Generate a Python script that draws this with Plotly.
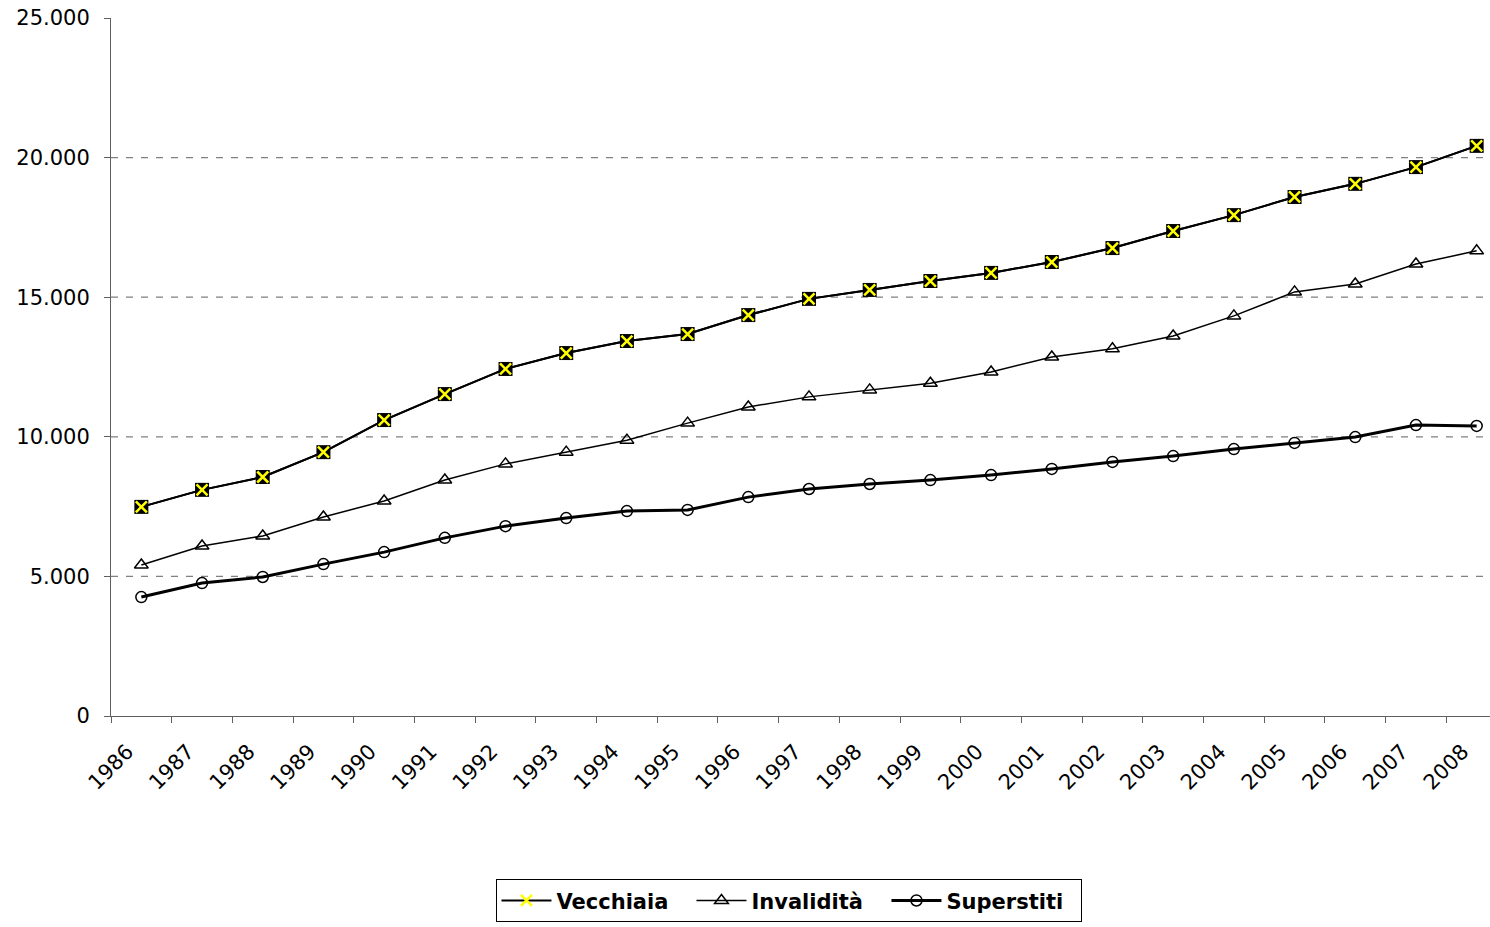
import plotly.graph_objects as go

anni = [str(a) for a in range(1986, 2009)]

vecchiaia = [7490, 8100, 8560, 9450, 10600, 11530, 12430, 13000, 13430, 13680, 14360, 14940,
             15260, 15580, 15870, 16260, 16760, 17370, 17940, 18590, 19060, 19660, 20420]
invalidita = [5410, 6090, 6450, 7130, 7700, 8450, 9030, 9450, 9880, 10490, 11070, 11430,
              11680, 11920, 12320, 12860, 13150, 13610, 14330, 15190, 15470, 16190, 16660]
superstiti = [4260, 4760, 4980, 5440, 5870, 6380, 6800, 7090, 7340, 7380, 7840, 8130,
              8310, 8450, 8630, 8850, 9100, 9310, 9560, 9780, 9990, 10420, 10390]

griglia = [5000, 10000, 15000, 20000]

fig = go.Figure()

# Vecchiaia: black square underneath, yellow cross on top
fig.add_trace(go.Scatter(x=anni, y=vecchiaia, name="Vecchiaia", mode="lines+markers",
                         legendgroup="v", showlegend=False,
                         line=dict(color="black", width=2),
                         marker=dict(symbol="square", size=14, color="black")))
fig.add_trace(go.Scatter(x=anni, y=vecchiaia, name="Vecchiaia", mode="lines+markers",
                         legendgroup="v",
                         line=dict(color="black", width=2),
                         marker=dict(symbol="x-thin", size=11, color="#ffff00",
                                     line=dict(color="#ffff00", width=2.5))))
fig.add_trace(go.Scatter(x=anni, y=invalidita, name="Invalidità", mode="lines+markers",
                         line=dict(color="black", width=1.5),
                         marker=dict(symbol="triangle-up-open", size=12, color="black",
                                     line=dict(width=1.5))))
fig.add_trace(go.Scatter(x=anni, y=superstiti, name="Superstiti", mode="lines+markers",
                         line=dict(color="black", width=3),
                         marker=dict(symbol="circle-open", size=11, color="black",
                                     line=dict(width=1.5))))

fig.update_traces(cliponaxis=False)

for g in griglia:
    fig.add_hline(y=g, line=dict(color="#808080", width=1.2, dash="7px,8px"), layer="below")

fig.update_layout(
    width=1490, height=927,
    margin=dict(l=111, r=0, t=18, b=211),
    paper_bgcolor="white", plot_bgcolor="white",
    font=dict(family="DejaVu Sans", size=21, color="black"),
    separators=",.",
    showlegend=True,
    legend=dict(orientation="h", x=0.492, xanchor="center", y=-0.234, yanchor="top",
                bordercolor="black", borderwidth=1,
                itemwidth=50, entrywidth=130, entrywidthmode="pixels",
                font=dict(family="DejaVu Sans", size=21, color="black", weight="bold")),
)
fig.update_yaxes(range=[0, 25000], dtick=5000, tickformat=",.0f", showgrid=False,
                 showline=True, linecolor="#606060", linewidth=1, automargin=False,
                 ticks="outside", ticklen=6, tickcolor="#606060", zeroline=False,
                 ticklabelstandoff=10)
fig.update_xaxes(type="category", range=[-0.5, 22.22], tickangle=-45,
                 tickson="boundaries", showgrid=False, automargin=False,
                 showline=True, linecolor="#606060", linewidth=1,
                 ticks="outside", ticklen=6, tickcolor="#606060",
                 ticklabelstandoff=14, ticklabelshift=-14)

fig.write_html("out.html", config={"displayModeBar": False},
               post_script="document.body.style.margin='0';")
